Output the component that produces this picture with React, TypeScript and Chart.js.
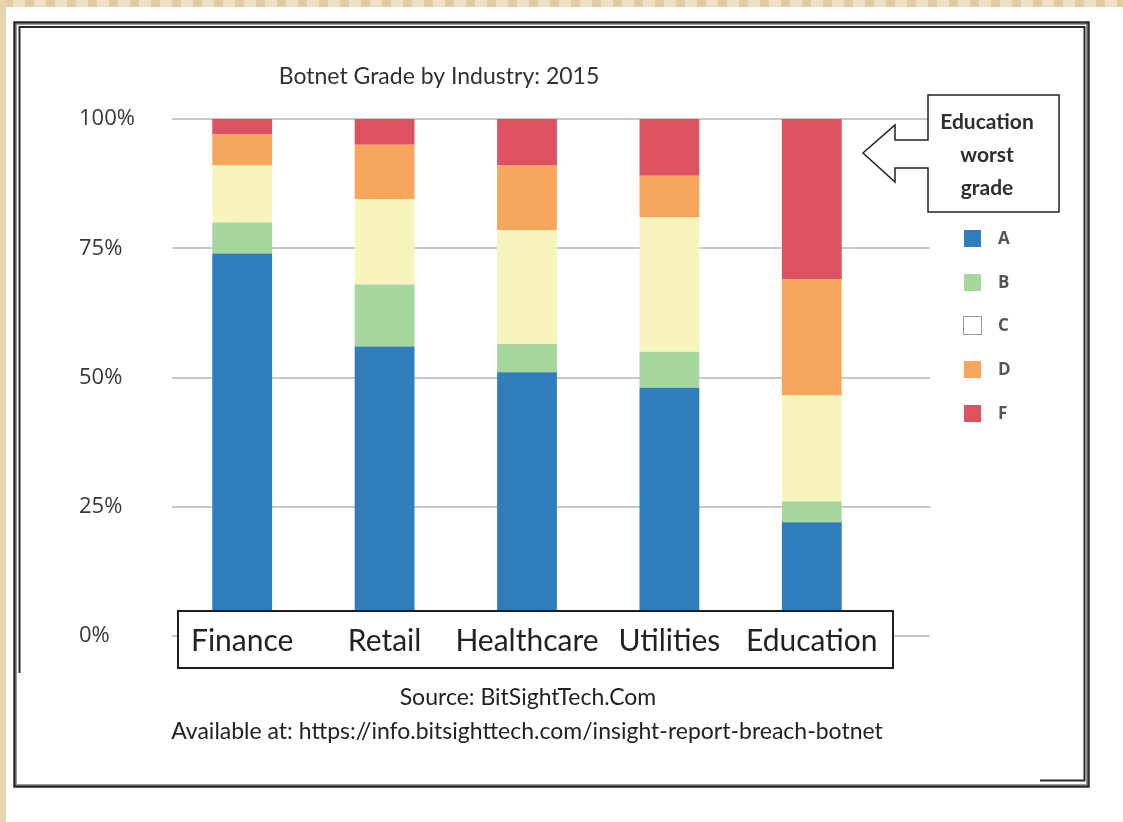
import React, { useEffect, useRef } from "react";
import { Chart, registerables } from "chart.js";

Chart.register(...registerables);

const industries = ["Finance", "Retail", "Healthcare", "Utilities", "Education"];
const grades = ["A", "B", "C", "D", "F"];
const gradeA = [74, 56, 51, 48, 22];
const gradeB = [6, 12, 5.5, 7, 4];
const gradeC = [11, 16.5, 22, 26, 20.5];
const gradeD = [6, 10.5, 12.5, 8, 22.5];
const gradeF = [3, 5, 9, 11, 31];
const gradeColors = ["#2f7dba", "#a6d79c", "#f7f5bb", "#f6a75d", "#dc5261"];
const legendSwatches = ["#2f7dba", "#a6d79c", "#ffffff", "#f6a75d", "#dc5261"];
const yTickValues = [0, 25, 50, 75, 100];
const chartTitle = "Botnet Grade by Industry: 2015";
const calloutLines = ["Education", "worst", "grade"];
const sourceLines = [
  "Source: BitSightTech.Com",
  "Available at: https://info.bitsighttech.com/insight-report-breach-botnet",
];

const W = 1123;
const H = 822;

const decorPlugin = {
  id: "decor",
  beforeDraw(chart: any) {
    const ctx = chart.ctx;
    ctx.save();
    ctx.fillStyle = "#ffffff";
    ctx.fillRect(0, 0, W, H);
    // beige page edges
    ctx.fillStyle = "#efe1c3";
    ctx.fillRect(0, 0, W, 7);
    ctx.fillStyle = "#e2cca2";
    for (let x = 4; x < W; x += 21) ctx.fillRect(x, 0, 9, 7);
    ctx.fillStyle = "#e8d5af";
    ctx.fillRect(0, 0, 6, H);

    // frame
    ctx.strokeStyle = "#2a2a2a";
    ctx.lineWidth = 2.5;
    ctx.strokeRect(14.5, 22.5, 1074, 764);
    ctx.strokeStyle = "#9a9a9a";
    ctx.lineWidth = 1;
    ctx.strokeRect(16.5, 24.5, 1070, 760);
    ctx.strokeStyle = "#2a2a2a";
    ctx.lineWidth = 2;
    ctx.beginPath();
    ctx.moveTo(19.5, 673);
    ctx.lineTo(19.5, 27);
    ctx.lineTo(1084.5, 27);
    ctx.lineTo(1084.5, 780.5);
    ctx.lineTo(1040, 780.5);
    ctx.stroke();

    // title
    ctx.fillStyle = "#303030";
    ctx.font = "23px Lato, 'Open Sans', sans-serif";
    ctx.textAlign = "center";
    ctx.textBaseline = "middle";
    ctx.fillText(chartTitle, 439, 77);

    // gridlines from the y scale
    const y = chart.scales.y;
    ctx.strokeStyle = "#c8c8c8";
    ctx.lineWidth = 2;
    y.ticks.forEach((t: any) => {
      const py = Math.round(y.getPixelForValue(t.value));
      ctx.beginPath();
      ctx.moveTo(172, py);
      ctx.lineTo(930, py);
      ctx.stroke();
    });
    ctx.restore();
  },
  afterDatasetsDraw(chart: any) {
    const ctx = chart.ctx;
    ctx.save();
    ctx.fillStyle = "#ffffff";
    ctx.fillRect(178, 611, 715, 57);
    ctx.strokeStyle = "#1e1e1e";
    ctx.lineWidth = 2;
    ctx.strokeRect(178, 611, 715, 57);
    ctx.restore();
  },
  afterDraw(chart: any) {
    const ctx = chart.ctx;
    ctx.save();
    // callout arrow box
    ctx.beginPath();
    ctx.moveTo(928, 95);
    ctx.lineTo(1059, 95);
    ctx.lineTo(1059, 212);
    ctx.lineTo(928, 212);
    ctx.lineTo(928, 168);
    ctx.lineTo(895, 168);
    ctx.lineTo(895, 182);
    ctx.lineTo(863, 153);
    ctx.lineTo(895, 125);
    ctx.lineTo(895, 140);
    ctx.lineTo(928, 140);
    ctx.closePath();
    ctx.fillStyle = "#ffffff";
    ctx.fill();
    ctx.strokeStyle = "#222222";
    ctx.lineWidth = 1.5;
    ctx.stroke();
    ctx.fillStyle = "#2e2e2e";
    ctx.font = "bold 21px Lato, 'Open Sans', sans-serif";
    ctx.textAlign = "center";
    ctx.textBaseline = "middle";
    const cy = [122, 155, 188];
    calloutLines.forEach((s, i) => ctx.fillText(s, 987, cy[i]));

    // legend from datasets
    const rows = [238, 282, 325, 369, 413];
    chart.data.datasets.forEach((ds: any, i: number) => {
      const r = rows[i];
      ctx.fillStyle = legendSwatches[i];
      ctx.fillRect(964, r - 8, 17, 17);
      if (legendSwatches[i] === "#ffffff") {
        ctx.strokeStyle = "#9a9a9a";
        ctx.lineWidth = 1;
        ctx.strokeRect(963.5, r - 8.5, 18, 18);
      }
      ctx.fillStyle = "#555555";
      ctx.font = "bold 17px 'Open Sans', sans-serif";
      ctx.textAlign = "left";
      ctx.textBaseline = "middle";
      ctx.fillText(ds.label, 998, r + 1);
    });

    // source lines
    ctx.fillStyle = "#222222";
    ctx.font = "23px Lato, 'Open Sans', sans-serif";
    ctx.textAlign = "center";
    ctx.textBaseline = "middle";
    ctx.fillText(sourceLines[0], 528, 698);
    ctx.fillText(sourceLines[1], 527, 732);
    ctx.restore();
  },
};

export default function App() {
  const ref = useRef<HTMLCanvasElement>(null);
  useEffect(() => {
    if (!ref.current) return;
    const series = [gradeA, gradeB, gradeC, gradeD, gradeF];
    const chart = new Chart(ref.current, {
      type: "bar",
      data: {
        labels: industries,
        datasets: grades.map((g, i) => ({
          label: g,
          data: series[i],
          backgroundColor: gradeColors[i],
          borderWidth: 0,
          barPercentage: 0.42,
          categoryPercentage: 1,
        })),
      },
      options: {
        responsive: false,
        animation: false,
        devicePixelRatio: 1,
        events: [],
        layout: { padding: { left: 79, right: 240, top: 119, bottom: 0 } },
        plugins: {
          legend: { display: false },
          title: { display: false },
          tooltip: { enabled: false },
        },
        scales: {
          x: {
            stacked: true,
            grid: { display: false, drawTicks: false },
            border: { display: false },
            ticks: {
              z: 1,
              mirror: true,
              color: "#222222",
              font: { family: "Lato, 'Open Sans', sans-serif", size: 30 },
              padding: -23,
              maxRotation: 0,
              autoSkip: false,
            },
            afterFit: (s: any) => {
              s.height = 186;
            },
          },
          y: {
            stacked: true,
            min: 0,
            max: 100,
            grid: { display: false, drawTicks: false },
            border: { display: false },
            afterBuildTicks: (s: any) => {
              s.ticks = yTickValues.map((v) => ({ value: v }));
            },
            ticks: {
              color: "#383838",
              font: { family: "'Open Sans', sans-serif", size: 22 },
              crossAlign: "far",
              padding: 0,
              callback: (v: any) => v + "%",
            },
            afterFit: (s: any) => {
              s.width = 92;
            },
          },
        },
      },
      plugins: [decorPlugin],
    });
    return () => chart.destroy();
  }, []);
  return (
    <div style={{ position: "absolute", left: 0, top: 0, width: W, height: H }}>
      <canvas ref={ref} width={W} height={H} style={{ display: "block" }} />
    </div>
  );
}
